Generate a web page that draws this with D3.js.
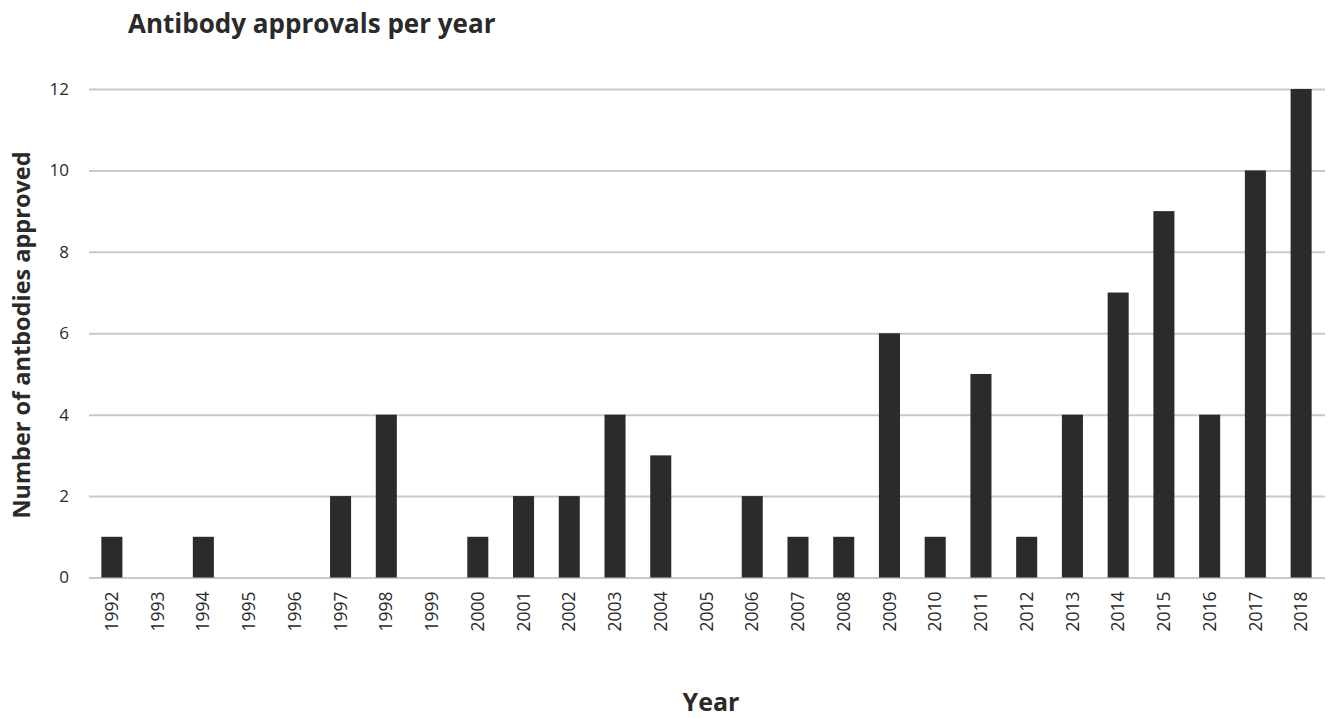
<!DOCTYPE html>
<html>
<head>
<meta charset="utf-8">
<script src="https://cdn.jsdelivr.net/npm/d3@7"></script>
<style>
  body { margin: 0; background: #fff; }
  text { font-family: "Open Sans", sans-serif; fill: #2a2a2a; }
</style>
</head>
<body>
<script>
var years = ["1992","1993","1994","1995","1996","1997","1998","1999","2000","2001","2002","2003","2004","2005","2006","2007","2008","2009","2010","2011","2012","2013","2014","2015","2016","2017","2018"];
var approvals = [1,0,1,0,0,2,4,0,1,2,2,4,3,0,2,1,1,6,1,5,1,4,7,9,4,10,12];
var yTicks = [0,2,4,6,8,10,12];

var W = 1329, H = 718;
var margin = {top: 89, right: 5, bottom: 140.5, left: 89};
var width = W - margin.left - margin.right,
    height = H - margin.top - margin.bottom;

var svg = d3.select("body").append("svg")
    .attr("width", W)
    .attr("height", H);

var g = svg.append("g")
    .attr("transform", "translate(" + margin.left + "," + margin.top + ")");

var x = d3.scaleBand()
    .domain(years)
    .range([0, width])
    .paddingInner(0.54)
    .paddingOuter(0.27);

var y = d3.scaleLinear()
    .domain([0, 12])
    .range([height, 0]);

// gridlines + y labels
var yAxis = d3.axisLeft(y)
    .tickValues(yTicks)
    .tickSize(-width - 1)
    .tickPadding(20);

g.append("g")
    .call(yAxis)
    .call(function(s) {
        s.select(".domain").remove();
        s.selectAll(".tick line").attr("stroke", "#c9c9c9").attr("stroke-width", 2);
        s.selectAll(".tick text")
            .style("font-size", "17px")
            .attr("fill", "#2a2a2a");
    });

// bars
g.selectAll("rect.bar")
    .data(approvals)
    .enter()
    .append("rect")
    .attr("class", "bar")
    .attr("x", function(d, i) { return x(years[i]); })
    .attr("y", function(d) { return y(d); })
    .attr("width", x.bandwidth())
    .attr("height", function(d) { return height - y(d); })
    .attr("fill", "#2b2b2b");

// x labels, rotated
var xAxis = d3.axisBottom(x).tickSize(0).tickPadding(0);
g.append("g")
    .attr("transform", "translate(0," + height + ")")
    .call(xAxis)
    .call(function(s) {
        s.select(".domain").remove();
        s.selectAll(".tick text")
            .attr("transform", "rotate(-90)")
            .attr("text-anchor", "end")
            .attr("x", -14)
            .attr("y", 0)
            .attr("dy", "0.35em")
            .style("font-size", "17.5px")
            .attr("fill", "#2a2a2a");
    });

// title
svg.append("text")
    .attr("x", 128)
    .attr("y", 33)
    .style("font-size", "26px")
    .style("font-weight", "bold")
    .text("Antibody approvals per year");

// y title
svg.append("text")
    .attr("transform", "translate(30," + 335 + ") rotate(-90)")
    .attr("text-anchor", "middle")
    .style("font-size", "23.5px")
    .style("font-weight", "bold")
    .text("Number of antbodies approved");

// x title
svg.append("text")
    .attr("x", 711)
    .attr("y", 711)
    .attr("text-anchor", "middle")
    .style("font-size", "25px")
    .style("font-weight", "bold")
    .text("Year");
</script>
</body>
</html>
